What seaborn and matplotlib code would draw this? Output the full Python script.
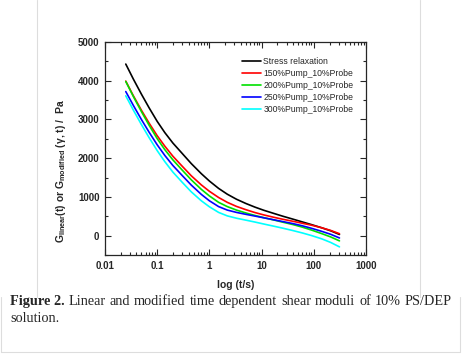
import matplotlib
matplotlib.use("Agg")
import matplotlib.pyplot as plt
import seaborn as sns
import pandas as pd
from matplotlib.lines import Line2D

# time grid (s) and moduli (Pa)
t = [0.025, 0.035, 0.05, 0.07, 0.1, 0.14, 0.2, 0.3, 0.45, 0.7, 1, 1.5, 2.2, 3.3,
     5, 7.5, 11, 17, 25, 40, 60, 90, 140, 210, 310]
stress_relax = [4430, 4040, 3650, 3300, 2950, 2660, 2390, 2125, 1860, 1600, 1410, 1220,
                1070, 940, 830, 735, 655, 575, 505, 425, 355, 285, 205, 125, 30]
pump150 = [3990, 3610, 3235, 2905, 2580, 2310, 2050, 1795, 1545, 1310, 1145, 985,
           860, 755, 670, 595, 535, 475, 425, 370, 320, 270, 205, 135, 50]
pump200 = [3980, 3590, 3200, 2850, 2505, 2220, 1955, 1695, 1440, 1195, 1025, 860,
           750, 660, 585, 520, 465, 405, 350, 285, 220, 145, 55, -33, -135]
pump250 = [3720, 3360, 2995, 2670, 2345, 2070, 1810, 1555, 1305, 1065, 900, 750,
           660, 600, 550, 505, 460, 410, 365, 310, 255, 190, 113, 35, -60]
pump300 = [3610, 3240, 2865, 2530, 2195, 1910, 1640, 1380, 1130, 900, 745, 600,
           510, 450, 400, 350, 300, 245, 195, 130, 70, 3, -80, -175, -290]

labels = ["Stress relaxation", "150%Pump_10%Probe", "200%Pump_10%Probe",
          "250%Pump_10%Probe", "300%Pump_10%Probe"]
colors = ["black", "#ff0000", "#00e000", "#0000ff", "#00ffff"]
series = [stress_relax, pump150, pump200, pump250, pump300]

rows = []
for lab, vals in zip(labels, series):
    for ti, v in zip(t, vals):
        rows.append({"t": ti, "G": v, "series": lab})
df = pd.DataFrame(rows)

sns.set_style("ticks")
plt.rcParams["font.family"] = ["Liberation Sans", "DejaVu Sans"]
plt.rcParams["mathtext.fontset"] = "custom"
plt.rcParams["mathtext.rm"] = "Liberation Sans:bold"
plt.rcParams["mathtext.it"] = "Liberation Sans:bold"
plt.rcParams["mathtext.bf"] = "Liberation Sans:bold"

fig = plt.figure(figsize=(4.63, 3.61), dpi=100)
ax = fig.add_axes([105 / 463, 1 - 255 / 361, (366 - 105) / 463, (255 - 42) / 361])

sns.lineplot(data=df, x="t", y="G", hue="series", palette=dict(zip(labels, colors)),
             estimator=None, sort=False, lw=1.2, ax=ax)

ax.set_xscale("log")
ax.set_xlim(0.01, 1000)
ax.set_ylim(-500, 5000)
ax.set_yticks([0, 1000, 2000, 3000, 4000, 5000])
ax.set_yticks(range(-500, 5000, 500), minor=True)
ax.set_xticks([0.01, 0.1, 1, 10, 100, 1000])
ax.set_xticklabels(["0.01", "0.1", "1", "10", "100", "1000"])
ax.tick_params(which="both", direction="in", top=True, right=True, width=0.8,
               labelsize=7, pad=4)
ax.tick_params(which="major", length=4)
ax.tick_params(which="minor", length=2)
for lbl in ax.get_xticklabels() + ax.get_yticklabels():
    lbl.set_fontweight("bold")
for sp in ax.spines.values():
    sp.set_linewidth(0.9)

ax.set_xlabel("log (t/s)", fontsize=7.5, fontweight="bold", labelpad=7)
ax.set_ylabel(r"G$_{\mathrm{linear}}$(t) or G$_{\mathrm{modified}}$ ($\gamma$, t) /  Pa",
              fontsize=7.5, fontweight="bold")
ax.yaxis.set_label_coords(-0.14, 0.394)

handles, _ = ax.get_legend_handles_labels()
ax.legend(handles, labels, loc="upper left", bbox_to_anchor=(0.524, 0.93), frameon=False,
          fontsize=6.2, handlelength=2.25, handletextpad=0.25, labelspacing=0.35,
          borderpad=0, borderaxespad=0)

# page borders
grey = "#dddddd"
fig.add_artist(Line2D([37 / 463, 37 / 463], [1, 1 - 297 / 361], color=grey, lw=0.8))
fig.add_artist(Line2D([420 / 463, 420 / 463], [1, 1 - 297 / 361], color=grey, lw=0.8))
fig.add_artist(Line2D([1 / 463, 1 / 463], [1 - 297 / 361, 1 - 352 / 361], color=grey, lw=0.8))
fig.add_artist(Line2D([460 / 463, 460 / 463], [1 - 297 / 361, 1 - 352 / 361], color=grey, lw=0.8))
fig.add_artist(Line2D([1 / 463, 460 / 463], [1 - 352 / 361, 1 - 352 / 361], color=grey, lw=0.8))

# justified caption, first line spread from x=10 to x=452
cap_font = dict(family="Liberation Serif", fontsize=10.3, va="baseline")
words = ["Figure 2."] + "Linear and modified time dependent shear moduli of 10% PS/DEP".split()
renderer = fig.canvas.get_renderer()
objs = [fig.text(0, 1 - 305 / 361, w, fontweight="bold" if i == 0 else "normal", **cap_font)
        for i, w in enumerate(words)]
widths = [o.get_window_extent(renderer).width for o in objs]
gap = (452 - 10 - sum(widths)) / (len(words) - 1)
x = 10
for o, w in zip(objs, widths):
    o.set_x(x / 463)
    x += w + gap
fig.text(10 / 463, 1 - 322 / 361, "solution.", **cap_font)

fig.savefig("out.png", dpi=100)
